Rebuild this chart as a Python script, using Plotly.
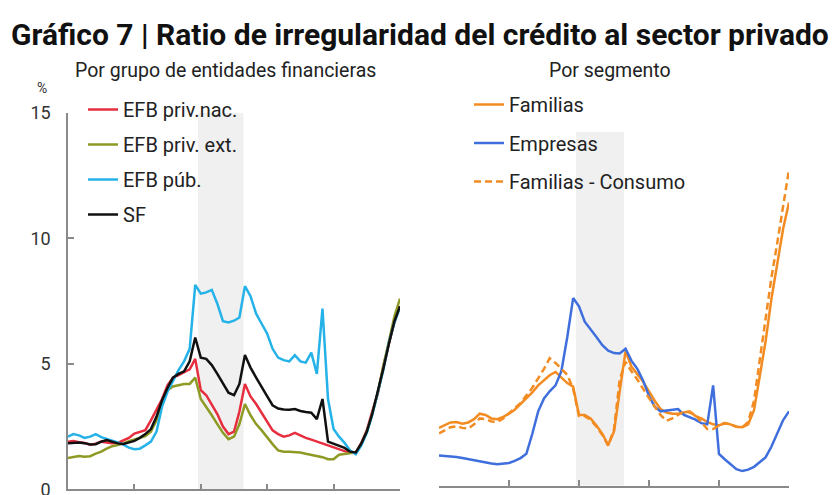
import pandas as pd
import plotly.graph_objects as go

# ---------------- data (bi-monthly observations, Jan-2016 .. Jan-2026) ----------------
dates = pd.date_range("2016-01-01", periods=61, freq="2MS")

efb_priv_nac = [1.90, 1.92, 1.88, 1.85, 1.78, 1.82, 1.90, 1.86, 1.84, 1.85,
                1.95, 2.05, 2.22, 2.30, 2.36, 2.75, 3.20, 3.60, 4.15, 4.45,
                4.55, 4.68, 4.78, 5.20, 3.95, 3.75, 3.40, 3.00, 2.50, 2.20,
                2.30, 3.10, 4.20, 3.70, 3.40, 3.05, 2.65, 2.35, 2.20, 2.10,
                2.15, 2.25, 2.15, 2.05, 1.98, 1.90, 1.82, 1.75, 1.68, 1.60,
                1.52, 1.47, 1.45, 1.85, 2.35, 3.10, 3.80, 4.90, 5.85, 6.70, 7.30]

efb_priv_ext = [1.25, 1.30, 1.33, 1.30, 1.32, 1.42, 1.50, 1.62, 1.72, 1.76,
                1.82, 1.92, 1.98, 2.05, 2.12, 2.30, 2.75, 3.45, 3.95, 4.10,
                4.15, 4.20, 4.20, 4.45, 3.60, 3.30, 2.95, 2.60, 2.25, 2.00,
                2.10, 2.60, 3.40, 2.95, 2.60, 2.35, 2.05, 1.80, 1.55, 1.50,
                1.50, 1.50, 1.47, 1.42, 1.38, 1.32, 1.28, 1.20, 1.20, 1.38,
                1.42, 1.45, 1.47, 1.80, 2.30, 3.00, 3.85, 4.90, 5.95, 6.90, 7.60]

efb_pub = [2.10, 2.20, 2.15, 2.05, 2.10, 2.20, 2.08, 2.02, 1.95, 1.87,
           1.78, 1.66, 1.60, 1.62, 1.75, 1.90, 2.30, 3.30, 3.90, 4.35,
           4.75, 5.10, 5.60, 8.15, 7.80, 7.85, 7.95, 7.40, 6.70, 6.65,
           6.72, 6.85, 8.10, 7.70, 7.00, 6.60, 6.20, 5.60, 5.25, 5.15,
           5.10, 5.35, 5.10, 5.05, 5.45, 4.60, 7.20, 3.60, 2.40, 2.10,
           1.85, 1.55, 1.40, 1.75, 2.25, 2.95, 3.80, 4.75, 5.85, 6.65, 7.25]

sf = [1.84, 1.85, 1.87, 1.84, 1.79, 1.80, 1.90, 1.96, 1.90, 1.83,
      1.81, 1.86, 1.93, 2.05, 2.20, 2.40, 2.90, 3.55, 4.05, 4.45,
      4.60, 4.70, 5.10, 6.05, 5.25, 5.20, 4.95, 4.60, 4.20, 3.85,
      3.75, 4.20, 5.35, 4.85, 4.45, 4.10, 3.70, 3.35, 3.22, 3.18,
      3.17, 3.20, 3.12, 3.08, 3.05, 2.80, 3.60, 1.90, 1.82, 1.76,
      1.65, 1.50, 1.47, 1.82, 2.30, 3.00, 3.85, 4.80, 5.80, 6.70, 7.30]

familias = [2.45, 2.58, 2.68, 2.70, 2.63, 2.68, 2.82, 3.05, 3.00, 2.85,
            2.82, 2.92, 3.05, 3.22, 3.45, 3.70, 3.95, 4.25, 4.45, 4.68,
            4.82, 4.58, 4.35, 4.20, 3.00, 3.00, 2.85, 2.55, 2.20, 1.72,
            2.30, 4.00, 5.70, 5.05, 4.70, 4.40, 4.00, 3.60, 3.25, 3.10,
            3.05, 3.05, 3.10, 3.15, 2.95, 2.85, 2.70, 2.60, 2.55, 2.65,
            2.60, 2.50, 2.48, 2.60, 3.20, 4.60, 6.10, 7.90, 9.50, 10.90, 12.00]

empresas = [1.28, 1.27, 1.25, 1.22, 1.17, 1.12, 1.07, 1.03, 0.98, 0.94,
            0.91, 0.92, 0.96, 1.05, 1.17, 1.35, 2.20, 3.15, 3.70, 4.00,
            4.25, 4.85, 6.30, 7.95, 7.60, 6.95, 6.65, 6.30, 5.95, 5.72,
            5.62, 5.60, 5.80, 5.30, 4.95, 4.45, 3.80, 3.35, 3.15, 3.18,
            3.20, 3.25, 3.00, 2.90, 2.80, 2.65, 2.60, 4.25, 1.35, 1.12,
            0.90, 0.70, 0.62, 0.68, 0.80, 0.98, 1.20, 1.65, 2.20, 2.78, 3.15]

familias_consumo = [2.22, 2.35, 2.48, 2.52, 2.45, 2.42, 2.60, 2.85, 2.82, 2.72,
                    2.70, 2.85, 3.05, 3.28, 3.50, 3.80, 4.15, 4.55, 4.95, 5.40,
                    5.20, 4.95, 4.70, 4.10, 2.95, 2.95, 2.80, 2.50, 2.15, 1.70,
                    2.40, 4.50, 5.25, 4.85, 4.50, 4.10, 3.70, 3.35, 3.00, 2.75,
                    2.85, 3.00, 3.15, 3.10, 3.00, 2.70, 2.40, 2.40, 2.55, 2.65,
                    2.60, 2.50, 2.48, 2.70, 3.60, 5.30, 7.00, 8.80, 10.30, 11.90, 13.40]

shade_start, shade_end = "2019-12-01", "2021-04-15"
x_range = ["2016-01-01", "2026-01-01"]
x_ticks = ["2016-01-01", "2018-01-01", "2020-01-01", "2022-01-01", "2024-01-01", "2026-01-01"]
y_ticks = [0, 5, 10, 15]

title = "Gráfico 7 | Ratio de irregularidad del crédito al sector privado"
sub_left = "Por grupo de entidades financieras"
sub_right = "Por segmento"

# ---------------- figure ----------------
W, H = 840, 495
FONT = "Roboto"
fig = go.Figure()

left_series = [
    ("EFB priv.nac.", efb_priv_nac, "#E62E3E"),
    ("EFB priv. ext.", efb_priv_ext, "#8E9A24"),
    ("EFB púb.", efb_pub, "#25B2E8"),
    ("SF", sf, "#111111"),
]
for i, (name, vals, col) in enumerate(left_series):
    fig.add_trace(go.Scatter(x=dates, y=vals, name=name, mode="lines",
                             line=dict(color=col, width=2.5),
                             xaxis="x", yaxis="y", legend="legend",
                             legendgroup=f"l{i}"))

right_series = [
    ("Familias", familias, "#F28C22", "solid"),
    ("Empresas", empresas, "#3E6FDD", "solid"),
    ("Familias - Consumo", familias_consumo, "#F28C22", "7px,4px"),
]
for i, (name, vals, col, dash) in enumerate(right_series):
    fig.add_trace(go.Scatter(x=dates, y=vals, name=name, mode="lines",
                             line=dict(color=col, width=2.5, dash=dash),
                             xaxis="x2", yaxis="y2", legend="legend2",
                             legendgroup=f"r{i}"))

for xr, yr in (("x", "y"), ("x2", "y2")):
    fig.add_shape(type="rect", xref=xr, yref=yr, x0=shade_start, x1=shade_end,
                  y0=0, y1=15, fillcolor="#F0F0F0", line=dict(width=0), layer="below")

axis_common = dict(type="date", range=x_range, tickvals=x_ticks, showticklabels=False,
                   ticks="inside", ticklen=6, tickcolor="#8A8A8A", tickwidth=1.5,
                   showline=True, linecolor="#8A8A8A", linewidth=1.5, automargin=False,
                   showgrid=False, zeroline=False, fixedrange=True)

fig.update_layout(
    width=W, height=H,
    margin=dict(l=0, r=0, t=0, b=0, pad=0, autoexpand=False),
    paper_bgcolor="white", plot_bgcolor="rgba(0,0,0,0)",
    font=dict(family=FONT, color="#222222"),
    xaxis=dict(domain=[68 / W, 400 / W], anchor="y", **axis_common),
    xaxis2=dict(domain=[439 / W, 789 / W], anchor="y2", **axis_common),
    yaxis=dict(domain=[(H - 489.3) / H, (H - 113) / H], range=[0, 15], tickvals=y_ticks,
               ticks="inside", ticklen=6, tickcolor="#8A8A8A", tickwidth=1.5,
               showline=True, linecolor="#8A8A8A", linewidth=1.5, automargin=False,
               showgrid=False, zeroline=False, ticklabelstandoff=12,
               ticklabeloverflow="allow",
               tickfont=dict(size=18, color="#333333", family=FONT), anchor="x"),
    yaxis2=dict(domain=[(H - 485.7) / H, (H - 131.7) / H], range=[0, 15],
                visible=False, anchor="x2", automargin=False),
    showlegend=True,
    legend=dict(x=83 / W, y=(H - 90) / H, xanchor="left", yanchor="top",
                bgcolor="rgba(0,0,0,0)", font=dict(size=20, color="#222222", family=FONT),
                tracegroupgap=6, itemwidth=30, traceorder="grouped"),
    legend2=dict(x=469 / W, y=(H - 85) / H, xanchor="left", yanchor="top",
                 bgcolor="rgba(0,0,0,0)", font=dict(size=20, color="#222222", family=FONT),
                 tracegroupgap=9.5, itemwidth=30, traceorder="grouped"),
)

fig.add_annotation(text=f"<b>{title}</b>", x=420 / W, y=(H - 34) / H, xref="paper", yref="paper",
                   xanchor="center", yanchor="middle", showarrow=False,
                   font=dict(size=30, color="#111111", family=FONT))
fig.add_annotation(text=sub_left, x=225 / W, y=(H - 70) / H, xref="paper", yref="paper",
                   xanchor="center", yanchor="middle", showarrow=False,
                   font=dict(size=19.5, color="#222222", family=FONT))
fig.add_annotation(text=sub_right, x=610 / W, y=(H - 70) / H, xref="paper", yref="paper",
                   xanchor="center", yanchor="middle", showarrow=False,
                   font=dict(size=19.5, color="#222222", family=FONT))
fig.add_annotation(text="%", x=42 / W, y=(H - 88) / H, xref="paper", yref="paper",
                   xanchor="center", yanchor="middle", showarrow=False,
                   font=dict(size=14, color="#333333", family=FONT))

fig.write_html("out.html")
